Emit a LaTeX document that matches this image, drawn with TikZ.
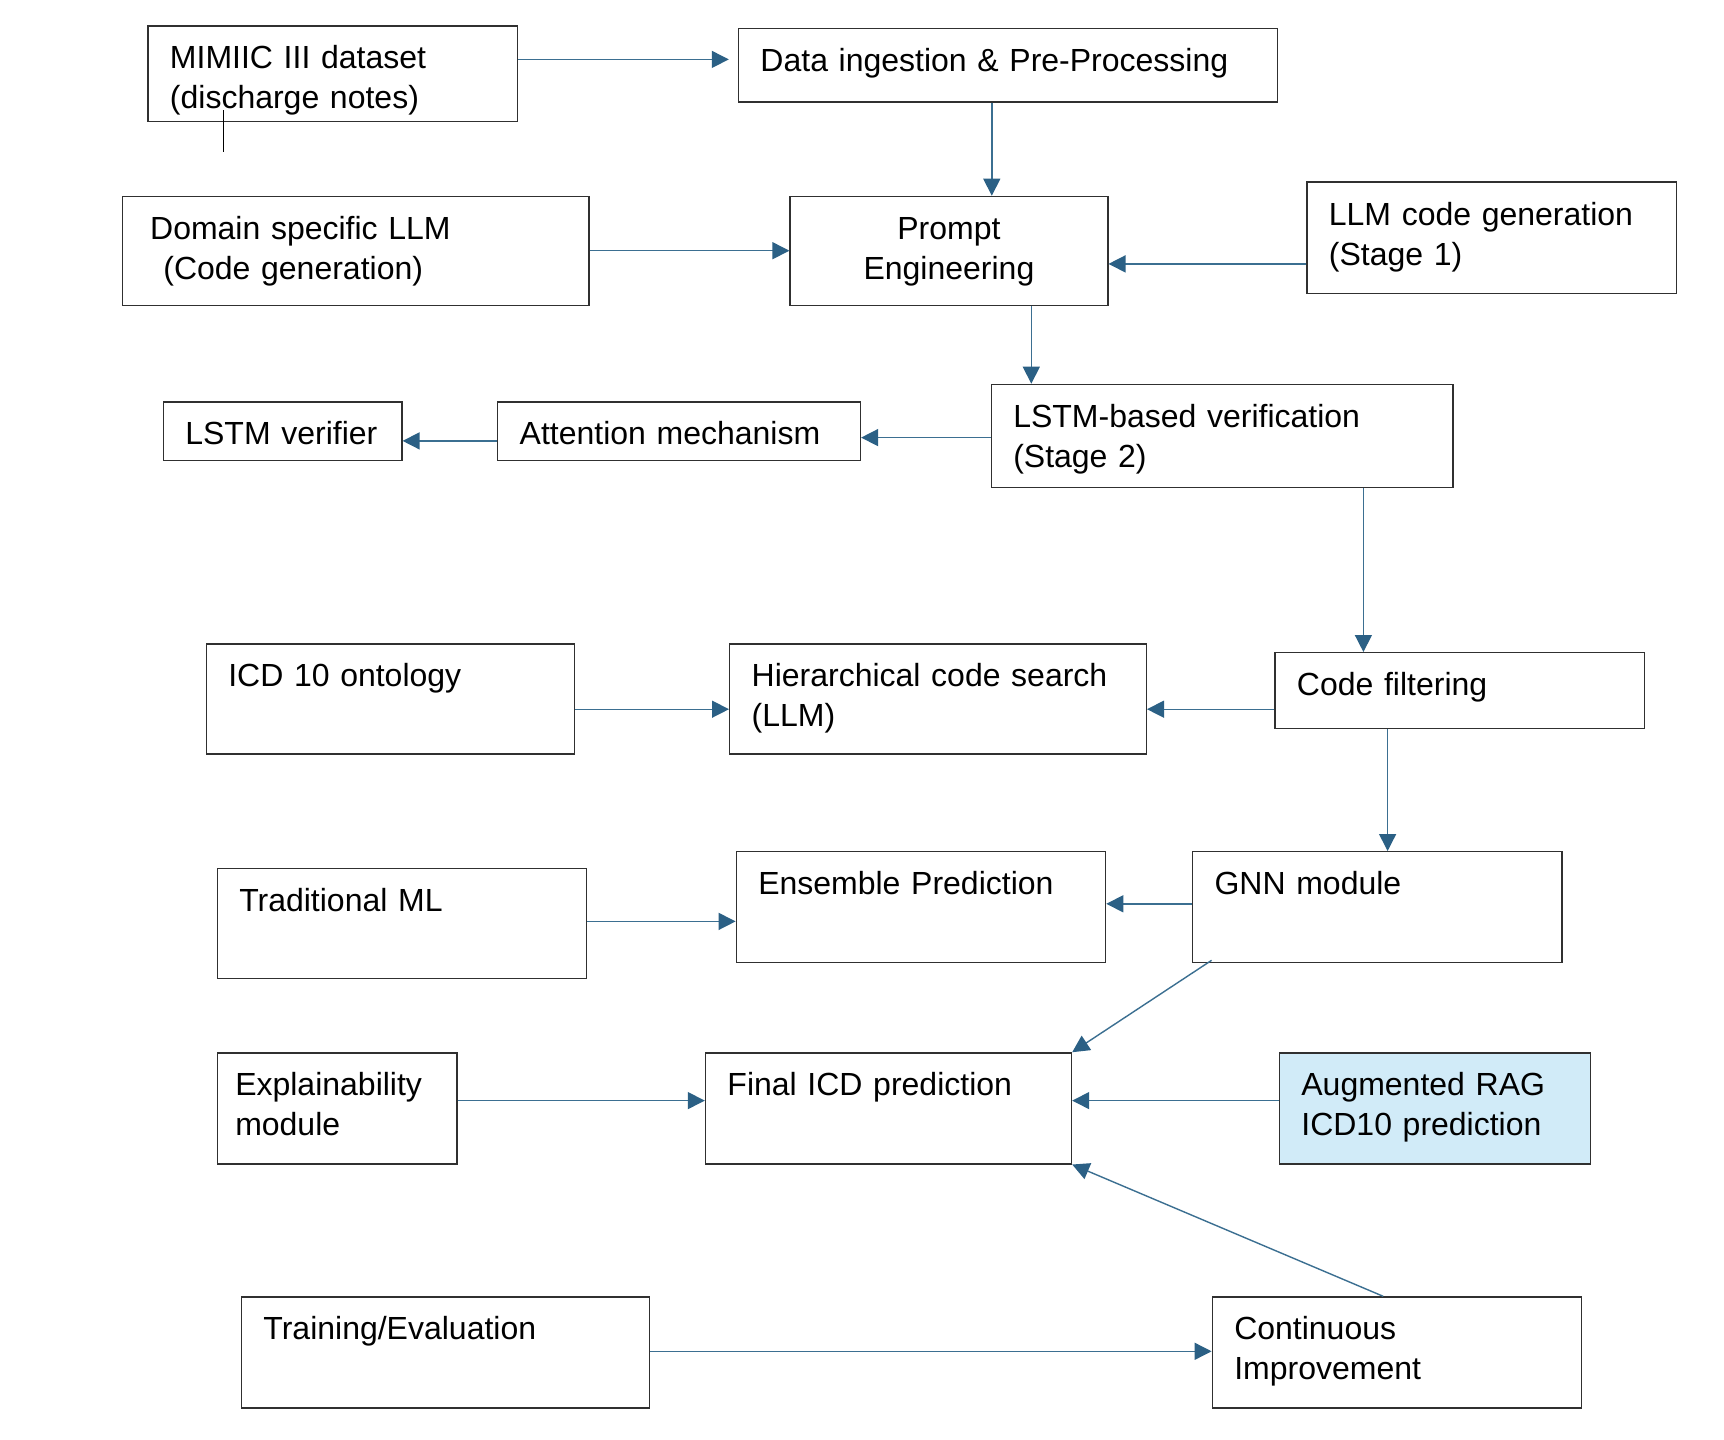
\documentclass[tikz,border=0pt]{standalone}
\usepackage{fontspec}
\setmainfont{Liberation Sans}
\usetikzlibrary{arrows.meta}
\definecolor{lineblue}{HTML}{3B6F91}
\definecolor{tipblue}{HTML}{2B6085}
\definecolor{bordercol}{HTML}{303030}
\definecolor{ragfill}{HTML}{D1EBF8}
\newcommand\bxfont{\fontsize{32}{40}\selectfont}
\begin{document}
\begin{tikzpicture}[x=1pt,y=-1pt,
  box/.style={draw=bordercol, line width=1.3pt, anchor=north west, inner xsep=22pt, inner ysep=0pt,
              align=left, text height=43pt, font=\bxfont, text=black},
  arr/.style={draw=lineblue, line width=1.4pt, -{Triangle[length=17pt,width=17pt,color=tipblue]}}]
\path[use as bounding box, fill=white] (0,0) rectangle (1724,1440);

\node[box, text width=325.5pt, text depth=52.6pt] (b1) at (147.3,25.3) {MIMIIC III dataset\\(discharge notes)};
\node[box, text width=494.7pt, text depth=30.7pt] (b2) at (737.8,27.5) {Data ingestion \& Pre-Processing};
\node[box, text width=422.2pt, text depth=65.9pt] (b3) at (122,195.7) {\hspace*{5.5pt}Domain specific LLM\\\hspace*{18.7pt}(Code generation)};
\node[box, text width=273.8pt, text depth=65.9pt, align=center] (b4) at (789.4,195.7) {Prompt\\Engineering};
\node[box, text width=325.4pt, text depth=68.1pt] (b5) at (1306.2,181.4) {LLM code generation\\(Stage 1)};
\node[box, text width=194.6pt, text depth=15.3pt] (b6) at (162.7,401.3) {LSTM verifier};
\node[box, text width=318.8pt, text depth=15.3pt] (b7) at (497,401.3) {Attention mechanism};
\node[box, text width=417.8pt, text depth=60.4pt] (b8) at (990.6,383.7) {LSTM-based verification\\(Stage 2)};
\node[box, text width=324.3pt, text depth=67pt] (b9) at (205.6,643.2) {ICD 10 ontology};
\node[box, text width=372.7pt, text depth=67pt] (b10) at (729,643.2) {Hierarchical code search\\(LLM)};
\node[box, text width=325.5pt, text depth=32.9pt] (b11) at (1274.3,652) {Code filtering};
\node[box, text width=325.4pt, text depth=67pt] (b12) at (216.6,867.5) {Traditional ML};
\node[box, text width=325.4pt, text depth=68pt] (b13) at (735.6,851) {Ensemble Prediction};
\node[box, text width=325.4pt, text depth=68pt] (b14) at (1191.9,851) {GNN module};
\node[box, inner xsep=18pt, text width=203.7pt, text depth=68pt] (b15) at (216.6,1052.2) {Explainability\\module};
\node[box, text width=322.1pt, text depth=68pt] (b16) at (704.8,1052.2) {Final ICD prediction};
\node[box, fill=ragfill, text width=267.2pt, text depth=68pt] (b17) at (1278.7,1052.2) {Augmented RAG\\ICD10 prediction};
\node[box, text width=363.9pt, text depth=68pt] (b18) at (240.8,1296.3) {Training/Evaluation};
\node[box, text width=325.5pt, text depth=68pt] (b19) at (1211.6,1296.3) {Continuous\\Improvement};

% small stray tick
\coordinate (tk1) at (223.2,110);
\coordinate (tk2) at (223.2,151.7);
\draw[black, line width=1.3pt] (tk1) -- (tk2);

\draw[arr, shorten >=9pt] (b1.east |- 0,59.4) -- (b2.west |- 0,59.4);
\draw[arr] (b2.south -| 991.8,0) -- (b4.north -| 991.8,0);
\draw[arr] (b3.east |- 0,250.7) -- (b4.west |- 0,250.7);
\draw[arr] (b5.west |- 0,263.9) -- (b4.east |- 0,263.9);
\draw[arr] (b4.south -| 1031.3,0) -- (b8.north -| 1031.3,0);
\draw[arr] (b8.west |- 0,437.6) -- (b7.east |- 0,437.6);
\draw[arr] (b7.west |- 0,440.9) -- (b6.east |- 0,440.9);
\draw[arr] (b8.south -| 1363.4,0) -- (b11.north -| 1363.4,0);
\draw[arr] (b11.west |- 0,709.2) -- (b10.east |- 0,709.2);
\draw[arr] (b9.east |- 0,709.2) -- (b10.west |- 0,709.2);
\draw[arr] (b11.south -| 1387.6,0) -- (b14.north -| 1387.6,0);
\draw[arr] (b14.west |- 0,903.8) -- (b13.east |- 0,903.8);
\draw[arr] (b12.east |- 0,921.4) -- (b13.west |- 0,921.4);
\draw[arr] ([xshift=19.7pt,yshift=3pt]b14.south west) -- (b16.north east);
\draw[arr] (b17.west |- 0,1100.6) -- (b16.east |- 0,1100.6);
\draw[arr] (b15.east |- 0,1100.6) -- (b16.west |- 0,1100.6);
\draw[arr] (b19.north -| 1383.2,0) -- (b16.south east);
\draw[arr] (b18.east |- 0,1351.3) -- (b19.west |- 0,1351.3);
\end{tikzpicture}
\end{document}
